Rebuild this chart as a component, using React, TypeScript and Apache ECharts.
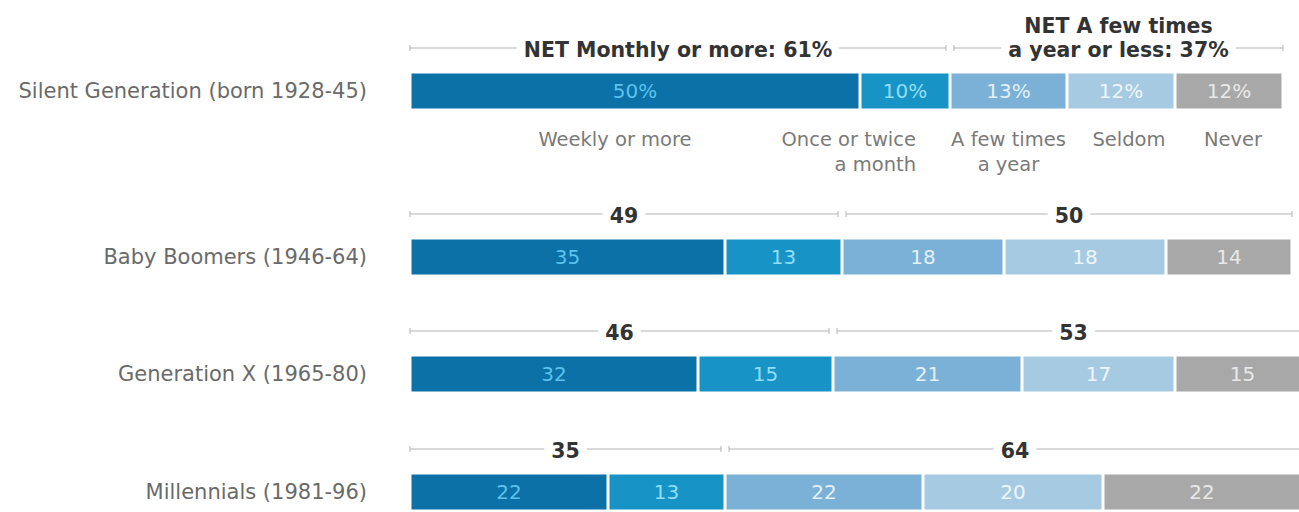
import React, { useEffect, useRef } from "react";
import * as echarts from "echarts";

const generations = [
  "Silent Generation (born 1928-45)",
  "Baby Boomers (1946-64)",
  "Generation X (1965-80)",
  "Millennials (1981-96)",
];
const categories = ["Weekly or more", "Once or twice\na month", "A few times\na year", "Seldom", "Never"];
const weekly = [50, 35, 32, 22];
const monthly = [10, 13, 15, 13];
const fewTimes = [13, 18, 21, 22];
const seldom = [12, 18, 17, 20];
const never = [12, 14, 15, 22];
const netMonthly = [61, 49, 46, 35];
const netYearly = [37, 50, 53, 64];

const segColors = ["#0b71a6", "#1893c6", "#7bb1d6", "#a7cae3", "#a8a8a8"];
const segLabelColors = ["#5cc2ee", "#8fdff6", "#e2f0f8", "#eef6fb", "#e8e8e8"];
const barTops = [72, 238, 355, 473];
const BAR_H = 38;
const FONT = "'DejaVu Sans', Verdana, sans-serif";
// horizontal nudges (px) of the category captions under the first bar
const captionNudge = [-20, -34, 0, 8, 4];

export default function App() {
  const ref = useRef<HTMLDivElement>(null);
  useEffect(() => {
    if (!ref.current) return;
    const chart = echarts.init(ref.current, undefined, { renderer: "svg" });
    const segs = [weekly, monthly, fewTimes, seldom, never];

    const grid: any[] = [];
    const xAxis: any[] = [];
    const yAxis: any[] = [];
    const series: any[] = [];

    generations.forEach((g, i) => {
      grid.push({ left: 410, width: 900, top: barTops[i], height: BAR_H, outerBoundsMode: "none" });
      xAxis.push({ gridIndex: i, type: "value", min: 0, max: 100, show: false });
      yAxis.push({
        gridIndex: i,
        type: "category",
        data: [g],
        axisLine: { show: false },
        axisTick: { show: false },
        axisLabel: { color: "#6a6a6a", fontSize: 21, fontFamily: FONT, margin: 43 },
      });
      segs.forEach((arr, j) => {
        series.push({
          type: "bar",
          name: categories[j],
          xAxisIndex: i,
          yAxisIndex: i,
          stack: "row" + i,
          barWidth: "100%",
          data: [arr[i]],
          itemStyle: { color: segColors[j], borderColor: "#ffffff", borderWidth: 1.5 },
          label: {
            show: true,
            position: "inside",
            formatter: i === 0 ? "{c}%" : "{c}",
            color: segLabelColors[j],
            fontSize: 20,
            fontFamily: FONT,
          },
        });
      });

      const split = weekly[i] + monthly[i];
      const total = split + fewTimes[i] + seldom[i] + never[i];
      const bracketData = [
        [0, split],
        [split, total],
      ];
      const texts =
        i === 0
          ? [`NET Monthly or more: ${netMonthly[i]}%`, `NET A few times\na year or less: ${netYearly[i]}%`]
          : [String(netMonthly[i]), String(netYearly[i])];
      series.push({
        type: "custom",
        xAxisIndex: i,
        yAxisIndex: i,
        clip: false,
        silent: true,
        data: bracketData,
        renderItem: (params: any, api: any) => {
          const idx = params.dataIndex;
          const a = api.coord([api.value(0), 0]);
          const b = api.coord([api.value(1), 0]);
          const y = a[1] - BAR_H / 2 - 24;
          const x0 = a[0] + (idx === 0 ? 0 : 4);
          const x1 = b[0] - (idx === 0 ? 4 : 0);
          const lineStyle = { stroke: "#b4b4b4", lineWidth: 1 };
          return {
            type: "group",
            children: [
              { type: "line", shape: { x1: x0, y1: y, x2: x1, y2: y }, style: lineStyle },
              { type: "line", shape: { x1: x0, y1: y - 3, x2: x0, y2: y + 3 }, style: lineStyle },
              { type: "line", shape: { x1: x1, y1: y - 3, x2: x1, y2: y + 3 }, style: lineStyle },
              {
                type: "text",
                style: {
                  text: texts[idx],
                  x: (x0 + x1) / 2,
                  y: y + 14,
                  align: "center",
                  verticalAlign: "bottom",
                  fill: "#333333",
                  font: `bold 20.5px ${FONT}`,
                  lineHeight: 24,
                  backgroundColor: "#ffffff",
                  padding: [0, 7],
                },
              },
            ],
          };
        },
      });
    });

    // category captions under the first bar
    const starts: number[] = [];
    let acc = 0;
    segs.forEach((arr) => {
      starts.push(acc);
      acc += arr[0];
    });
    series.push({
      type: "custom",
      xAxisIndex: 0,
      yAxisIndex: 0,
      clip: false,
      silent: true,
      data: segs.map((arr, j) => [starts[j], starts[j] + arr[0]]),
      renderItem: (params: any, api: any) => {
        const j = params.dataIndex;
        const a = api.coord([api.value(0), 0]);
        const b = api.coord([api.value(1), 0]);
        const rightAligned = j === 1;
        return {
          type: "text",
          style: {
            text: categories[j],
            x: (rightAligned ? b[0] : (a[0] + b[0]) / 2) + captionNudge[j],
            y: a[1] + BAR_H / 2 + 17,
            align: rightAligned ? "right" : "center",
            verticalAlign: "top",
            fill: "#7a7a7a",
            font: `19.5px ${FONT}`,
            lineHeight: 25,
          },
        };
      },
    });

    chart.setOption({
      animation: false,
      backgroundColor: "#ffffff",
      grid,
      xAxis,
      yAxis,
      series,
    });
    return () => chart.dispose();
  }, []);
  return (
    <div style={{ position: "absolute", left: 0, top: 0, width: 1299, height: 512, overflow: "hidden" }}>
      <div ref={ref} style={{ width: 1320, height: 512 }} />
    </div>
  );
}
